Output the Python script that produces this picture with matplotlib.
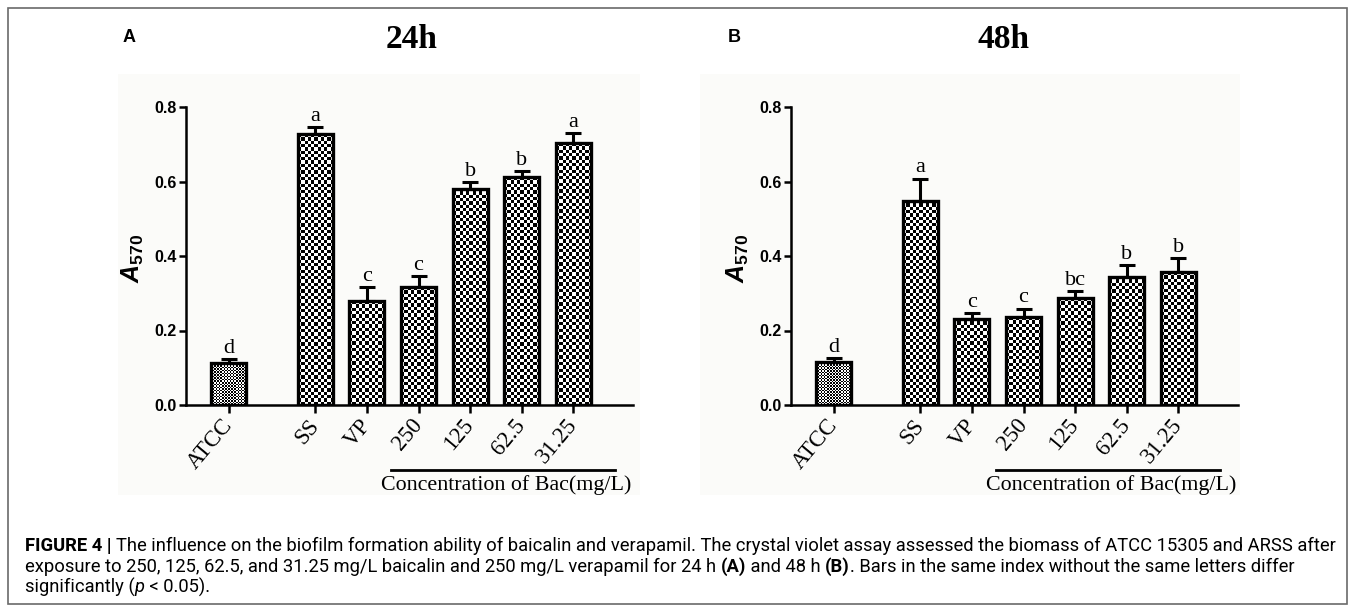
import numpy as np
import matplotlib
matplotlib.use("Agg")
import matplotlib.pyplot as plt
from matplotlib.patches import Rectangle

# data
categories = ["ATCC", "SS", "VP", "250", "125", "62.5", "31.25"]
positions = [0, 1.68, 2.68, 3.68, 4.68, 5.68, 6.68]

mean_24h = [0.114, 0.727, 0.278, 0.316, 0.580, 0.611, 0.703]
err_24h = [0.009, 0.018, 0.038, 0.030, 0.018, 0.018, 0.027]
letters_24h = ["d", "a", "c", "c", "b", "b", "a"]

mean_48h = [0.116, 0.548, 0.231, 0.235, 0.287, 0.344, 0.357]
err_48h = [0.009, 0.060, 0.016, 0.024, 0.020, 0.031, 0.037]
letters_48h = ["d", "a", "c", "c", "bc", "b", "b"]

titles = ["24h", "48h"]
panel_tags = ["A", "B"]
group_label = "Concentration of Bac(mg/L)"

plt.rcParams["mathtext.fontset"] = "custom"
plt.rcParams["mathtext.it"] = "Liberation Sans:bold:italic"
plt.rcParams["mathtext.rm"] = "Liberation Sans:bold"

W, H = 1355, 612
fig = plt.figure(figsize=(W / 100, H / 100), dpi=100)
fig.patch.set_facecolor("white")


def px(x, y):
    return x / W, 1 - y / H


# outer frame
fig.patches.append(Rectangle((8 / W, 8 / H), 1339 / W, 596 / H, transform=fig.transFigure,
                             fill=False, edgecolor="#6a6a6a", lw=1.2, zorder=5))
# slightly tinted background of the pasted chart images
for x0, x1 in [(118, 640), (700, 1240)]:
    fig.patches.append(Rectangle((x0 / W, 1 - 495 / H), (x1 - x0) / W, 421 / H,
                                 transform=fig.transFigure, facecolor="#fbfbf9",
                                 edgecolor="none", zorder=-5))

BAR_W = 0.68


def checker_fill(ax, x, h, cell):
    # paint a checkerboard inside one bar
    p0 = ax.transData.transform((x - BAR_W / 2, 0))
    p1 = ax.transData.transform((x + BAR_W / 2, h))
    nx = max(1, int(round((p1[0] - p0[0]) / cell)))
    ny = max(1, int(round((p1[1] - p0[1]) / cell)))
    board = np.add.outer(np.arange(ny), np.arange(nx)) % 2
    ax.imshow(board, cmap="gray_r", vmin=0, vmax=1, origin="lower",
              extent=(x - BAR_W / 2, x + BAR_W / 2, 0, h),
              interpolation="nearest", aspect="auto", zorder=2)


def draw_panel(left_px, means, errs, letters, title, tag, title_x, tag_x):
    ax = fig.add_axes([left_px / W, 1 - 405 / H, 447 / W, 298 / H])
    ax.set_facecolor("none")
    ax.set_xlim(-0.83, 7.84)
    ax.set_ylim(0, 0.8)

    ax.bar(positions, means, width=BAR_W, color="white", edgecolor="none", zorder=1)
    for i, (x, h) in enumerate(zip(positions, means)):
        checker_fill(ax, x, h, 1.5 if i == 0 else 3.3)
    ax.bar(positions, means, width=BAR_W, fill=False, edgecolor="black", lw=2.4, zorder=3)
    ax.errorbar(positions, means, yerr=[np.zeros(len(errs)), errs], fmt="none",
                ecolor="black", elinewidth=2.2, capsize=6, capthick=2.2, zorder=3)
    ax.set_xlim(-0.83, 7.84)
    ax.set_ylim(0, 0.8)

    for x, m, e, lab in zip(positions, means, errs, letters):
        ax.text(x, m + e + 0.003, lab, ha="center", va="bottom",
                family="Liberation Serif", fontsize=16)

    for s in ["top", "right"]:
        ax.spines[s].set_visible(False)
    ax.spines["left"].set_linewidth(1.8)
    ax.spines["bottom"].set_linewidth(1.8)
    ax.spines["left"].set_bounds(0, 0.8)

    ax.set_yticks([0.0, 0.2, 0.4, 0.6, 0.8])
    ax.set_yticklabels(["0.0", "0.2", "0.4", "0.6", "0.8"],
                       family="Liberation Sans", fontweight="bold", fontsize=11.5)
    ax.tick_params(axis="y", length=5, width=1.8, pad=2)
    ax.set_xticks(positions)
    ax.set_xticklabels(categories, rotation=50, ha="right", va="center",
                       rotation_mode="anchor", family="Liberation Serif", fontsize=16.5)
    ax.tick_params(axis="x", length=6, width=1.8, pad=6)

    ax.set_ylabel(r"$A_{\mathit{570}}$", fontsize=18)
    ax.yaxis.set_label_coords(-0.09, 0.49)

    ax.plot([3.14, 7.5], [-0.1745, -0.1745], color="black", lw=2, clip_on=False)
    ax.text(5.38, -0.214, group_label, ha="center", va="center",
            family="Liberation Serif", fontsize=15.8)

    fig.text(*px(title_x, 40), title, ha="center", va="center",
             family="Liberation Serif", fontweight="bold", fontsize=24)
    fig.text(*px(tag_x, 37), tag, ha="center", va="center",
             family="Liberation Sans", fontweight="bold", fontsize=13)
    return ax


draw_panel(186, mean_24h, err_24h, letters_24h, titles[0], panel_tags[0], 412, 129)
draw_panel(791, mean_48h, err_48h, letters_48h, titles[1], panel_tags[1], 1003, 734)

# caption, written as runs of differently styled text
cap_lines = [
    [("FIGURE 4 | ", "bold", "normal"),
     ("The influence on the biofilm formation ability of baicalin and verapamil. The crystal "
      "violet assay assessed the biomass of ATCC 15305 and ARSS after", "normal", "normal")],
    [("exposure to 250, 125, 62.5, and 31.25 mg/L baicalin and 250 mg/L verapamil for 24 h ",
      "normal", "normal"), ("(A)", "bold", "normal"), (" and 48 h ", "normal", "normal"),
     ("(B)", "bold", "normal"),
     (". Bars in the same index without the same letters differ", "normal", "normal")],
    [("significantly (", "normal", "normal"), ("p", "normal", "italic"),
     (" < 0.05).", "normal", "normal")],
]
cap_family = ["Roboto", "Liberation Sans"]
renderer = fig.canvas.get_renderer()


def put_runs(x0, y0, runs, size):
    x = x0
    for txt, wt, st in runs:
        t = fig.text(x / W, 1 - y0 / H, txt, family=cap_family, fontweight=wt,
                     fontstyle=st, fontsize=size, va="center", ha="left")
        bb = t.get_window_extent(renderer)
        x += bb.width
    return x


# fit caption size so the first line spans like the original
probe = put_runs(-5000, -5000, cap_lines[0], 10)
for t in list(fig.texts):
    if t.get_position()[0] < -1:
        t.remove()
cap_size = 10 * (1338 - 25) / (probe + 5000)
for line, y in zip(cap_lines, [546, 567, 587]):
    put_runs(25, y, line, cap_size)

fig.savefig("out.png", dpi=100, facecolor="white")
